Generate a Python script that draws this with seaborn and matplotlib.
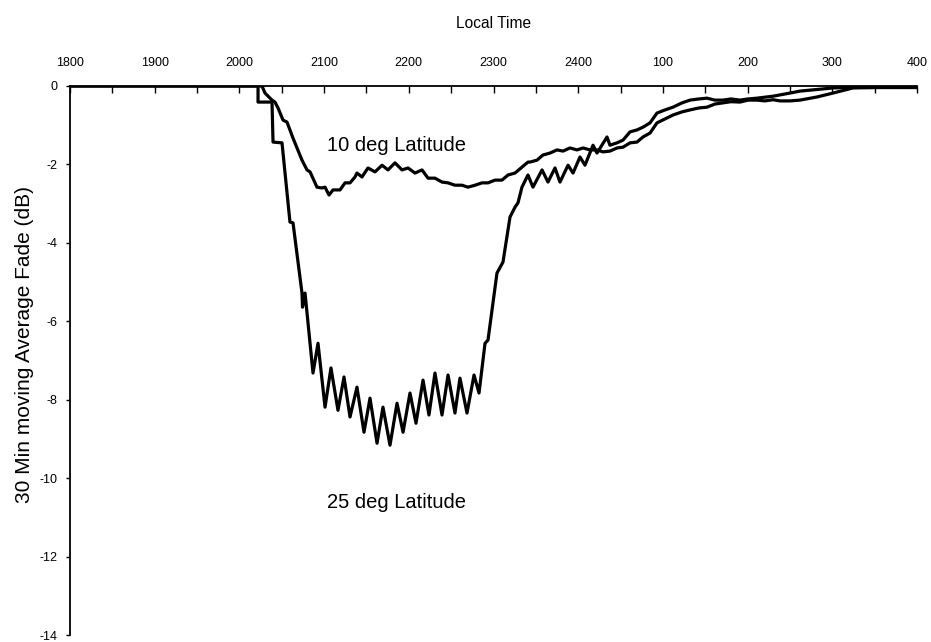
import numpy as np
import pandas as pd
import matplotlib
matplotlib.use("Agg")
import matplotlib.pyplot as plt
import seaborn as sns

# Hours after 1800 local time
tick_positions = [0, 1, 2, 3, 4, 5, 6, 7, 8, 9, 10]
tick_labels = ["1800", "1900", "2000", "2100", "2200", "2300", "2400", "100", "200", "300", "400"]
y_ticks = [0, -2, -4, -6, -8, -10, -12, -14]

lat10_time = [0.0, 2.267, 2.302, 2.385, 2.420, 2.456, 2.515, 2.562, 2.633, 2.739, 2.798, 2.834,
              2.916, 2.975, 3.011, 3.058, 3.105, 3.188, 3.247, 3.306, 3.365, 3.388, 3.447, 3.518,
              3.601, 3.684, 3.754, 3.837, 3.920, 3.991, 4.073, 4.156, 4.227, 4.309, 4.392, 4.463,
              4.545, 4.628, 4.699, 4.782, 4.864, 4.935, 5.018, 5.100, 5.171, 5.254, 5.336, 5.407,
              5.431, 5.514, 5.584, 5.667, 5.750, 5.821, 5.903, 5.986, 6.057, 6.139, 6.222, 6.293,
              6.375, 6.458, 6.529, 6.612, 6.694, 6.765, 6.848, 6.930, 7.025, 7.119, 7.226, 7.320,
              7.426, 7.520, 7.615, 7.710, 7.804, 7.910, 8.005, 8.111, 8.205, 8.300, 8.383, 8.501,
              8.619, 8.819, 9.008, 9.244, 9.528, 10.0]
lat10_fade = [0.0, 0.0, -0.18, -0.36, -0.41, -0.56, -0.87, -0.92, -1.33, -1.89, -2.14, -2.19,
              -2.58, -2.60, -2.58, -2.78, -2.65, -2.65, -2.47, -2.47, -2.32, -2.22, -2.32, -2.09,
              -2.19, -2.02, -2.14, -1.96, -2.14, -2.09, -2.22, -2.14, -2.35, -2.35, -2.45, -2.47,
              -2.53, -2.53, -2.58, -2.53, -2.47, -2.47, -2.40, -2.40, -2.27, -2.22, -2.07, -1.94,
              -1.94, -1.89, -1.76, -1.71, -1.63, -1.66, -1.58, -1.63, -1.58, -1.63, -1.63, -1.68,
              -1.66, -1.58, -1.56, -1.45, -1.43, -1.30, -1.20, -0.94, -0.84, -0.74, -0.66, -0.61,
              -0.56, -0.54, -0.46, -0.43, -0.40, -0.41, -0.36, -0.36, -0.38, -0.35, -0.38, -0.38,
              -0.36, -0.28, -0.18, -0.05, -0.04, -0.04]

lat25_time = [0.0, 2.220, 2.220, 2.326, 2.385, 2.397, 2.503, 2.597, 2.633, 2.739, 2.745, 2.775,
              2.869, 2.928, 3.011, 3.081, 3.164, 3.235, 3.306, 3.388, 3.471, 3.542, 3.625, 3.695,
              3.778, 3.861, 3.932, 4.014, 4.085, 4.168, 4.238, 4.309, 4.392, 4.463, 4.545, 4.604,
              4.687, 4.770, 4.829, 4.900, 4.935, 5.041, 5.112, 5.195, 5.254, 5.289, 5.336, 5.395,
              5.407, 5.466, 5.573, 5.643, 5.726, 5.785, 5.880, 5.939, 6.021, 6.080, 6.175, 6.222,
              6.340, 6.375, 6.458, 6.529, 6.612, 6.694, 6.765, 6.848, 6.930, 7.025, 7.119, 7.226,
              7.320, 7.426, 7.520, 7.615, 7.710, 7.804, 7.910, 8.005, 8.111, 8.300, 8.501, 8.619,
              9.008, 9.244, 10.0]
lat25_fade = [0.0, 0.0, -0.41, -0.41, -0.41, -1.43, -1.45, -3.47, -3.49, -5.28, -5.64, -5.28,
              -7.32, -6.56, -8.19, -7.19, -8.27, -7.42, -8.44, -7.68, -8.83, -7.96, -9.11, -8.19,
              -9.16, -8.09, -8.83, -7.83, -8.60, -7.50, -8.39, -7.32, -8.39, -7.37, -8.34, -7.45,
              -8.34, -7.37, -7.83, -6.56, -6.48, -4.77, -4.49, -3.34, -3.09, -2.98, -2.58, -2.32,
              -2.27, -2.58, -2.14, -2.45, -2.09, -2.45, -2.02, -2.22, -1.81, -2.02, -1.51, -1.71,
              -1.30, -1.51, -1.45, -1.38, -1.17, -1.12, -1.05, -0.94, -0.69, -0.61, -0.54, -0.43,
              -0.36, -0.33, -0.31, -0.36, -0.36, -0.33, -0.36, -0.33, -0.31, -0.26, -0.18, -0.13,
              -0.05, -0.03, -0.03]

df = pd.concat([
    pd.DataFrame({"time": lat10_time, "fade": lat10_fade, "series": "10 deg Latitude"}),
    pd.DataFrame({"time": lat25_time, "fade": lat25_fade, "series": "25 deg Latitude"}),
], ignore_index=True)

sns.set_style("ticks")
plt.rcParams["font.family"] = ["Liberation Sans", "DejaVu Sans"]
plt.rcParams["text.color"] = "black"
plt.rcParams["axes.labelcolor"] = "black"
plt.rcParams["xtick.color"] = "black"
plt.rcParams["ytick.color"] = "black"

fig = plt.figure(figsize=(9.31, 6.42), dpi=100)
ax = fig.add_axes([70 / 931, 1 - 635 / 642, 847 / 931, 549 / 642])

sns.lineplot(data=df, x="time", y="fade", units="series", estimator=None, sort=False,
             color="black", linewidth=2.3, ax=ax, legend=False)
for line in ax.get_lines():
    line.set_solid_joinstyle("round")
    line.set_solid_capstyle("round")

ax.set_xlim(0, 10)
ax.set_ylim(-14, 0)

ax.xaxis.tick_top()
ax.xaxis.set_label_position("top")
ax.set_xticks(tick_positions)
ax.set_xticklabels(tick_labels)
ax.set_xticks(np.arange(0.5, 10, 1.0), minor=True)
ax.tick_params(axis="x", which="both", direction="in", length=5, width=1, pad=12,
               labelsize=9, colors="black", top=True, bottom=False)
ax.set_yticks(y_ticks)
ax.set_yticklabels([str(v) for v in y_ticks])
ax.tick_params(axis="y", direction="out", length=3, width=1, pad=6, labelsize=9, colors="black")

for s in ["bottom", "right"]:
    ax.spines[s].set_visible(False)
for s in ["top", "left"]:
    ax.spines[s].set_linewidth(1.3)
    ax.spines[s].set_color("black")

ax.set_xlabel("Local Time", fontsize=11.2, labelpad=21, color="black")
ax.set_ylabel("30 Min moving Average Fade (dB)", fontsize=15, color="black")
ax.yaxis.set_label_coords(-0.042, 0.53)

ax.text(3.86, -1.53, "10 deg Latitude", fontsize=14.5, ha="center", va="center", color="black")
ax.text(3.86, -10.61, "25 deg Latitude", fontsize=14.5, ha="center", va="center", color="black")

fig.savefig("out.png", dpi=100)
